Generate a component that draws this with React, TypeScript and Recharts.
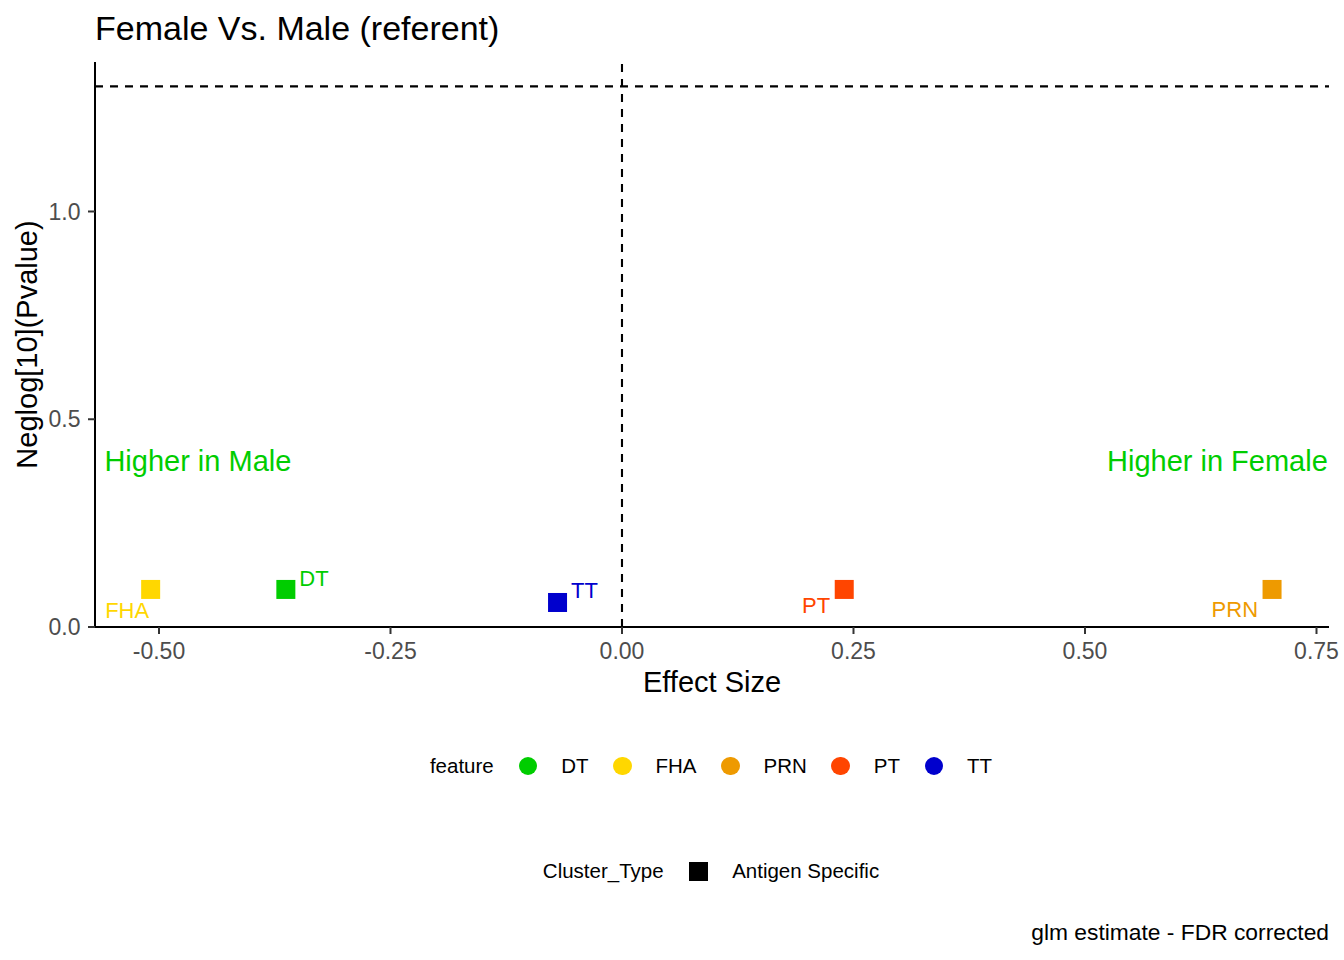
import React from "react"
import { ScatterChart, Scatter, XAxis, YAxis, ReferenceLine, Label } from "recharts"

// antigen features
const features = ["DT", "FHA", "PRN", "PT", "TT"]
const effectSize = [-0.363, -0.509, 0.702, 0.24, -0.0696]
const negLogP = [0.0904, 0.0904, 0.0904, 0.0904, 0.059]

const xTicks = [-0.5, -0.25, 0, 0.25, 0.5, 0.75]
const yTicks = [0, 0.5, 1]
const pThreshold = 1.30103 // -log10(0.05)

const annotationText = ["Higher in Male", "Higher in Female"]
const annotationX = [-0.458, 0.643]
const annotationY = [0.4, 0.4]

const clusterTypes = ["Antigen Specific"]

const FONT = "'Liberation Sans', Arial, sans-serif"

const featureColors: Record<string, string> = {
  DT: "#00CD00",
  FHA: "#FFD700",
  PRN: "#EE9A00",
  PT: "#FF4500",
  TT: "#0000CD",
}

// where each repelled label sits relative to its point
const labelNudge: Record<string, { anchor: "start" | "end"; dx: number; dy: number }> = {
  DT: { anchor: "start", dx: 13.5, dy: -3 },
  FHA: { anchor: "end", dx: -1.5, dy: 28.5 },
  PRN: { anchor: "end", dx: -14, dy: 28 },
  PT: { anchor: "end", dx: -14, dy: 23.5 },
  TT: { anchor: "start", dx: 13.5, dy: -4 },
}

const points = features.map((f, i) => ({ feature: f, effect: effectSize[i], neglog: negLogP[i] }))
const annotations = annotationText.map((t, i) => ({ text: t, effect: annotationX[i], neglog: annotationY[i] }))

function SquarePoint(props: any) {
  const { cx, cy, payload } = props
  const color = featureColors[payload.feature]
  const nudge = labelNudge[payload.feature]
  return (
    <g>
      <rect x={cx - 9.5} y={cy - 9.5} width={19} height={19} fill={color} />
      <text
        x={cx + nudge.dx}
        y={cy + nudge.dy}
        textAnchor={nudge.anchor}
        fill={color}
        fontSize={22}
        fontFamily={FONT}
      >
        {payload.feature}
      </text>
    </g>
  )
}

function AnnotationText(props: any) {
  const { cx, cy, payload } = props
  return (
    <text x={cx} y={cy + 10.7} textAnchor="middle" fill="#00CD00" fontSize={29} fontFamily={FONT}>
      {payload.text}
    </text>
  )
}

const tickStyle = { fill: "#4D4D4D", fontSize: 23, fontFamily: FONT }

const legendRow: React.CSSProperties = {
  position: "absolute",
  left: 0,
  width: 1422,
  height: 26,
  display: "flex",
  justifyContent: "center",
  alignItems: "center",
  fontSize: 20.5,
  color: "#000",
}

export default function App() {
  return (
    <div style={{ position: "absolute", left: 0, top: 0, width: 1344, height: 960, background: "#fff", fontFamily: FONT }}>
      <ScatterChart width={1344} height={960} margin={{ top: 62, right: 15, bottom: 263, left: 0 }}>
        <XAxis
          type="number"
          dataKey="effect"
          domain={[-0.5691, 0.7635]}
          allowDataOverflow
          ticks={xTicks}
          tickFormatter={(v: number) => v.toFixed(2)}
          tick={tickStyle}
          tickSize={7}
          tickMargin={9}
          height={70}
          axisLine={{ stroke: "#000", strokeWidth: 2 }}
          tickLine={{ stroke: "#333", strokeWidth: 2 }}
        >
          <Label
            content={({ viewBox }: any) => (
              <text
                x={viewBox.x + viewBox.width / 2}
                y={viewBox.y + 65}
                textAnchor="middle"
                fontSize={29}
                fontFamily={FONT}
                fill="#000"
              >
                Effect Size
              </text>
            )}
          />
        </XAxis>
        <YAxis
          type="number"
          dataKey="neglog"
          domain={[0, 1.3598]}
          allowDataOverflow
          ticks={yTicks}
          tickFormatter={(v: number) => v.toFixed(1)}
          tick={tickStyle}
          tickSize={7}
          tickMargin={7.5}
          width={95}
          axisLine={{ stroke: "#000", strokeWidth: 2 }}
          tickLine={{ stroke: "#333", strokeWidth: 2 }}
        >
          <Label
            content={({ viewBox }: any) => {
              const x = viewBox.x + 37
              const y = viewBox.y + viewBox.height / 2
              return (
                <text
                  x={x}
                  y={y}
                  transform={`rotate(-90, ${x}, ${y})`}
                  textAnchor="middle"
                  fontSize={29}
                  fontFamily={FONT}
                  fill="#000"
                >
                  Neglog[10](Pvalue)
                </text>
              )
            }}
          />
        </YAxis>
        <ReferenceLine y={pThreshold} stroke="#000" strokeWidth={2.1} strokeDasharray="8 7" />
        <ReferenceLine x={0} stroke="#000" strokeWidth={2.1} strokeDasharray="8 7" />
        <Scatter data={annotations} shape={AnnotationText} isAnimationActive={false} />
        <Scatter data={points} shape={SquarePoint} isAnimationActive={false} />
      </ScatterChart>

      <div style={{ position: "absolute", left: 95, top: 11, fontSize: 34, lineHeight: "34px", color: "#000" }}>
        Female Vs. Male (referent)
      </div>

      <div style={{ ...legendRow, top: 753 }}>
        <span style={{ marginRight: 25 }}>feature</span>
        {features.map((f) => (
          <span key={f} style={{ display: "flex", alignItems: "center" }}>
            <span
              style={{ width: 18.5, height: 18.5, borderRadius: "50%", background: featureColors[f], display: "inline-block" }}
            />
            <span style={{ marginLeft: 24, marginRight: f === "TT" ? 0 : 24.5 }}>{f}</span>
          </span>
        ))}
      </div>

      <div style={{ ...legendRow, top: 858 }}>
        <span style={{ marginRight: 25 }}>Cluster_Type</span>
        {clusterTypes.map((c) => (
          <span key={c} style={{ display: "flex", alignItems: "center" }}>
            <span style={{ width: 19, height: 19, background: "#000", display: "inline-block" }} />
            <span style={{ marginLeft: 24.5 }}>{c}</span>
          </span>
        ))}
      </div>

      <div style={{ position: "absolute", right: 15, top: 921, fontSize: 22.8, lineHeight: "23px", color: "#000" }}>
        glm estimate - FDR corrected
      </div>
    </div>
  )
}
